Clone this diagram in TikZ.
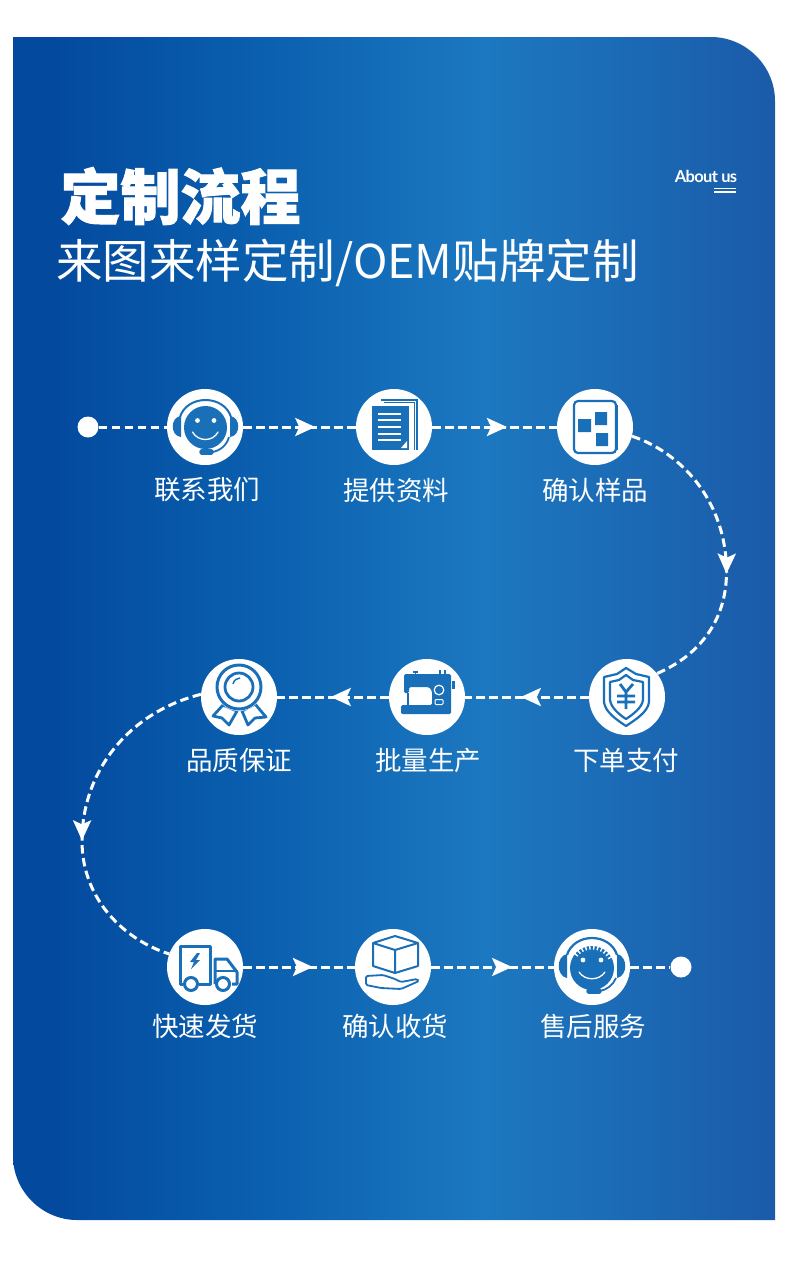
\documentclass[tikz,border=0pt]{standalone}
\usepackage{fontspec}
\setmainfont{Noto Sans CJK SC}
\newfontfamily\titlef[BoldFeatures={FakeBold=1.6}]{Noto Sans CJK SC}
\newfontfamily\aboutf[LetterSpace=-4]{Lato}
\usetikzlibrary{arrows.meta,decorations.markings}
\definecolor{bgA}{HTML}{03499D}
\definecolor{bgB}{HTML}{0A5FAE}
\definecolor{bgC}{HTML}{1C78C0}
\definecolor{bgD}{HTML}{1B5BA9}
\definecolor{ico}{HTML}{1A6FB9}
\pgfdeclarehorizontalshading{bgshade}{100bp}{
  color(0bp)=(bgA); color(27bp)=(bgA); color(41bp)=(bgB);
  color(56bp)=(bgC); color(75bp)=(bgD); color(100bp)=(bgD)}
\tikzset{
  x=1pt,y=-1pt,
  hub/.style={circle,fill=white,draw=none,inner sep=0pt,minimum size=76pt},
  enddot/.style={circle,fill=white,draw=none,inner sep=0pt,minimum size=21pt},
  lab/.style={text=white,inner sep=0pt,font=\fontsize{26.5}{26.5}\selectfont},
  conn/.style={draw=white,line width=3pt,dash pattern=on 8.5pt off 4.5pt},
  tipat/.style={postaction={decorate,decoration={markings,
     mark=at position #1 with {\arrow{Stealth[length=20pt,width=18pt,inset=4pt,fill=white,color=white]}}}}},
  icol/.style={draw=ico,line width=2.4pt,line join=round,fill=none},
  whl/.style={draw=white,line width=1.3pt,fill=none,line cap=round},
}
\begin{document}
\begin{tikzpicture}
\useasboundingbox (0,0) rectangle (790,1277);
\shade[shading=bgshade] (13,37) -- (711,37) .. controls (746,37) and (775,66) .. (775,101)
  -- (775,1220) -- (77,1220) .. controls (42,1220) and (13,1191) .. (13,1156) -- cycle;

\node[text=white,inner sep=0pt,anchor=center,font=\titlef\bfseries\fontsize{60}{60}\selectfont] (title) at (180.5,196) {定制流程};
\node[text=white,inner sep=0pt,anchor=center,font=\fontsize{46.5}{46.5}\selectfont] (sub) at (347.5,263) {来图来样定制/OEM贴牌定制};
\node[text=white,inner sep=0pt,anchor=center,font=\aboutf\bfseries\fontsize{16.5}{16.5}\selectfont] (about) at (706,176) {About us};
\draw[white,line width=1.4pt] (714,188.5) -- (736,188.5) (714,192) -- (736,192);

\node[enddot] (s) at (88,427) {};
\node[enddot] (e) at (681,967) {};
\node[hub] (c1) at (205,427) {};
\node[hub] (c2) at (394,427) {};
\node[hub] (c3) at (595,427) {};
\node[hub] (c4) at (627,697) {};
\node[hub] (c5) at (427,697) {};
\node[hub] (c6) at (239,697) {};
\node[hub] (c7) at (205,967) {};
\node[hub] (c8) at (393,967) {};
\node[hub] (c9) at (592,967) {};
\coordinate (t1) at (726.5,572);
\coordinate (t2) at (82,841);

\node[lab] (l1) at (207,490) {联系我们};
\node[lab] (l2) at (396,490) {提供资料};
\node[lab] (l3) at (595,490) {确认样品};
\node[lab] (l4) at (626,760) {下单支付};
\node[lab] (l5) at (428,760) {批量生产};
\node[lab] (l6) at (239,760) {品质保证};
\node[lab] (l7) at (205,1026) {快速发货};
\node[lab] (l8) at (395,1026) {确认收货};
\node[lab] (l9) at (593,1026) {售后服务};

\draw[conn] (s) -- (c1);
\draw[conn,tipat=0.64] (c1) -- (c2);
\draw[conn,tipat=0.6] (c2) -- (c3);
\draw[conn,tipat=0.58] (c3.-14) .. controls (680,452) and (726.5,500) .. (t1) .. controls (726.5,620) and (700,655) .. (c4.38);
\draw[conn,tipat=0.55] (c4) -- (c5);
\draw[conn,tipat=0.52] (c5) -- (c6);
\draw[conn,tipat=0.57] (c6.176) .. controls (130,712) and (82,770) .. (t2) .. controls (82,900) and (125,940) .. (c7.160);
\draw[conn,tipat=0.625] (c7) -- (c8);
\draw[conn,tipat=0.66] (c8) -- (c9);
\draw[conn] (c9) -- (e);

% icon 1 headset
\begin{scope}[shift={(c1)}]
 \fill[ico] (-24,-11) .. controls (-35,-10) and (-35,9) .. (-24,10) -- cycle;
 \fill[ico] (25,-11) .. controls (36,-10) and (36,9) .. (25,10) -- cycle;
 \draw[ico,line width=2pt] (-25,-10) .. controls (-22,-20) and (-12,-27) .. (0.5,-27) .. controls (13,-27) and (23,-20) .. (26,-10);
 \fill[ico] (0.5,0.5) circle (21.5);
 \fill[white] (-7.5,-6.5) circle (2.4) (9,-6.5) circle (2.4);
 \draw[whl] (-12.5,5) .. controls (-7,15) and (8,15) .. (13,5);
 \draw[ico,line width=1.8pt] (7,25) .. controls (15,24) and (22,18) .. (24,10);
 \draw[ico,line width=5.5pt,line cap=round] (-3,25) -- (6,25);
\end{scope}
% icon 2 document
\begin{scope}[shift={(c2)}]
 \draw[ico,line width=1.3pt] (-13,-27) -- (23,-27) -- (23,23) (-10,-24.5) -- (20.5,-24.5) -- (20.5,23);
 \fill[white] (-22,-21) rectangle (16,24);
 \fill[ico] (-22,-21) rectangle (15,23);
 \draw[white,line width=1.3pt] (-16,-13) -- (7,-13) (-16,-7) -- (7,-7) (-16,0) -- (7,0) (-16,7) -- (7,7) (-16,13) -- (7,13);
 \fill[white] (7,21) -- (13,21) -- (13,14) -- cycle;
\end{scope}
% icon 3 squares
\begin{scope}[shift={(c3)}]
 \draw[ico,line width=2.2pt,rounded corners=4pt] (-21,-26) rectangle (21,26);
 \draw[ico,line width=1.2pt] (22.5,-22) -- (22.5,23);
 \fill[ico] (-17,-8) rectangle (-4,5) (0,-15) rectangle (12,-2) (1,6) rectangle (13,19);
\end{scope}
% icon 4 shield
\begin{scope}[shift={(c4)}]
 \draw[icol,line width=2.2pt] (-1,-29) -- (-10,-23) -- (-23,-20) -- (-23,5) .. controls (-22,15) and (-10,23) .. (-1,29) .. controls (8,23) and (21,15) .. (22,5) -- (22,-20) -- (9,-23) -- cycle;
 \draw[icol,line width=2.2pt] (-1,-22) -- (-8,-17) -- (-17,-15) -- (-17,3) .. controls (-16,11) and (-7,18) .. (-1,22) .. controls (5,18) and (15,11) .. (16,3) -- (16,-15) -- (6,-17) -- cycle;
 \draw[icol,line width=2.8pt] (-7,-13) -- (-1,-5) -- (6,-13) (-1,-5) -- (-1,12) (-10,-1) -- (8,-1) (-10,5) -- (8,5);
\end{scope}
% icon 5 sewing machine
\begin{scope}[shift={(c5)}]
 \fill[ico,rounded corners=1.5pt] (-23,-23) -- (24,-23) -- (24,17) -- (-26,17) -- (-26,8) -- (5,8) -- (5,-6) -- (2,-10) -- (-18,-10) -- (-18,-4) -- (-23,-4) -- cycle;
 \fill[ico] (25,-16) rectangle (28,-8);
 \draw[ico,line width=1.2pt] (-14,-25) -- (-9,-25) (-11.5,-25) -- (-11.5,-23) (13,-27) -- (13,-23) (18,-27) -- (18,-23) (-19,-4) -- (-19,8);
 \draw[white,line width=1.2pt] (12,-7) circle (4.8);
 \fill[white] (-16,-6) circle (1.6);
 \draw[white,line width=1pt,rounded corners=1pt] (8,2.5) rectangle (16,7.5);
\end{scope}
% icon 6 rosette
\begin{scope}[shift={(c6)}]
 \draw[icol,line width=2.8pt,fill=white] (-16,8) -- (-26,19) -- (-17,21) -- (-10,28) -- (-2,14) -- cycle;
 \draw[icol,line width=2.8pt,fill=white] (3,14) -- (9,28) -- (16,21) -- (27,20) -- (16,7) -- cycle;
 \fill[white] (0,-10) circle (24);
 \draw[icol,line width=3pt] (0,-10) circle (22);
 \draw[icol,line width=2.8pt] (0,-10) circle (14);
 \draw[ico,line width=1.5pt] (-6,-13) .. controls (-5,-17) and (-2,-19) .. (1,-19);
\end{scope}
% icon 7 truck
\begin{scope}[shift={(c7)}]
 \draw[icol,line width=3pt] (-22,17) -- (-25,17) -- (-25,-21) -- (5,-21) -- (5,17) -- (-6,17);
 \fill[ico] (-8,-14) -- (-15,-5) -- (-11,-5) -- (-14,2) -- (-5,-7) -- (-9,-7) -- (-5,-14) -- cycle;
 \draw[icol,line width=3pt] (10,17) -- (10,-8) -- (22,-8) -- (32,5) -- (32,17) -- (27,17);
 \draw[icol,line width=2pt] (10,4) -- (31,4);
 \draw[icol,line width=3pt,fill=white] (-14,17) circle (6.5) (18,17) circle (6.5);
\end{scope}
% icon 8 box and hand
\begin{scope}[shift={(c8)}]
 \draw[icol,line width=2pt] (2,-31) -- (-20,-24) -- (-20,-1) -- (2,6) -- (25,-1) -- (25,-24) -- cycle;
 \draw[icol,line width=2pt] (-20,-24) -- (2,-17) -- (25,-24) (2,-17) -- (2,6);
 \draw[icol,line width=1.8pt,rounded corners=1.5pt] (-27,9) -- (-10,8) -- (2,12) -- (8,15) -- (24,12) -- (26,14) -- (8,22) -- (-12,21) -- (-27,18) -- cycle;
\end{scope}
% icon 9 service
\begin{scope}[shift={(c9)}]
 \fill[ico] (-25,-13) .. controls (-36,-11) and (-36,9) .. (-25,11) -- cycle;
 \fill[ico] (25,-13) .. controls (36,-11) and (36,9) .. (25,11) -- cycle;
 \draw[ico,line width=2.2pt] (-25,-12) .. controls (-22,-22) and (-12,-29) .. (0,-29) .. controls (12,-29) and (22,-22) .. (25,-12);
 \fill[ico] (0,1) circle (22);
 \foreach \a in {30,41,...,150} {
   \draw[white,line width=1.4pt] ({18.5*cos(\a)},{1-18.5*sin(\a)}) -- ({22.5*cos(\a)},{1-22.5*sin(\a)});
 }
 \fill[white] (-9,-7) circle (2.4) (9,-7) circle (2.4);
 \draw[whl] (-13,5) .. controls (-7,14) and (7,14) .. (13,5);
 \draw[ico,line width=1.8pt] (7,24) .. controls (15,23) and (21,18) .. (24,11);
 \draw[ico,line width=5.5pt,line cap=round] (-3,24) -- (7,24);
\end{scope}
\end{tikzpicture}
\end{document}
